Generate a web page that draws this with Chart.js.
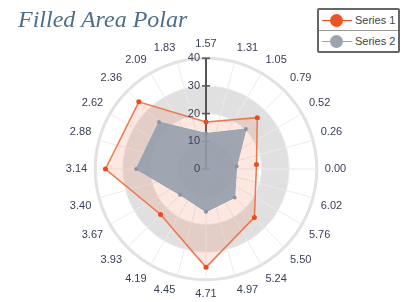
<!DOCTYPE html>
<html>
<head>
<meta charset="utf-8">
<script src="https://cdn.jsdelivr.net/npm/chart.js@4"></script>
<style>
  body { margin: 0; background: #fff; }
  #wrap { position: relative; width: 408px; height: 302px; overflow: hidden; }
  #title {
    position: absolute; left: 18px; top: 6px; line-height: 24px;
    font: italic 24px 'Liberation Serif', 'Times New Roman', serif; color: #4f6d8a;
  }
  #legend {
    position: absolute; left: 317px; top: 8px; width: 79px;
    border: 2px solid #666; border-radius: 2px; background: #fff;
    font: 11px 'Liberation Sans', Arial, sans-serif; color: #444;
  }
  .row { height: 20px; display: flex; align-items: center; }
  .row + .row { border-top: 1px solid #999; }
  .mark { position: relative; width: 30px; height: 13px; margin: 0 3px 0 3px; }
  .mark::before {
    content: ''; position: absolute; left: 0; right: 0; top: 6px; height: 1.5px; background: var(--c);
  }
  .mark::after {
    content: ''; position: absolute; left: 8px; top: 0; width: 13px; height: 13px;
    border-radius: 50%; background: var(--c);
  }
</style>
</head>
<body>
<div id="wrap">
  <canvas id="chart" width="408" height="302"></canvas>
  <div id="title">Filled Area Polar</div>
  <div id="legend">
    <div class="row"><span class="mark" style="--c:#f0531f"></span>Series 1</div>
    <div class="row"><span class="mark" style="--c:#9aa4af"></span>Series 2</div>
  </div>
</div>
<script>
// angle labels (radians), from the top going clockwise
const angleLabels = ['1.57', '1.31', '1.05', '0.79', '0.52', '0.26', '0.00', '6.02', '5.76', '5.50', '5.24', '4.97',
  '4.71', '4.45', '4.19', '3.93', '3.67', '3.40', '3.14', '2.88', '2.62', '2.36', '2.09', '1.83'];
const radialTicks = [0, 10, 20, 30, 40];

// point angles in degrees, counterclockwise from 0.00
const pointAngles = [90, 45, 5, -45, -90, -135, 180, 135];
const series1 = [17, 26.2, 18.3, 24.7, 35.5, 23.2, 36.3, 34.3];
const series2 = [12.8, 20.4, 11.1, 14.6, 15.4, 13.2, 25.2, 24.0];

const gridColor = '#ebebeb';
const bandColor = '#e0e0e0';
const labelColor = '#3a4055';
const font = "'Liberation Sans', Arial, sans-serif";

// radar slots every 5 degrees, a label on every third one
const slotsPerLabel = 3;
const slotCount = angleLabels.length * slotsPerLabel;
const slotLabels = [];
for (let i = 0; i < slotCount; i++) {
  slotLabels.push(i % slotsPerLabel === 0 ? angleLabels[i / slotsPerLabel] : '');
}

function toSlots(values) {
  const slots = new Array(slotCount).fill(null);
  values.forEach((v, i) => {
    const deg = ((90 - pointAngles[i]) % 360 + 360) % 360;
    slots[Math.round(deg / (360 / slotCount)) % slotCount] = v;
  });
  return slots;
}

const polarDecor = {
  id: 'polarDecor',
  beforeDraw(chart) {
    const s = chart.scales.r;
    const c = chart.ctx;
    c.save();
    c.fillStyle = bandColor;
    for (let i = 0; i + 1 < radialTicks.length; i += 2) {
      c.beginPath();
      c.arc(s.xCenter, s.yCenter, s.getDistanceFromCenterForValue(radialTicks[i + 1]), 0, Math.PI * 2);
      if (radialTicks[i] > 0) {
        c.arc(s.xCenter, s.yCenter, s.getDistanceFromCenterForValue(radialTicks[i]), 0, Math.PI * 2, true);
      }
      c.fill();
    }
    c.restore();
  },
  beforeDatasetsDraw(chart) {
    const s = chart.scales.r;
    const c = chart.ctx;
    const top = radialTicks[radialTicks.length - 1];
    c.save();
    c.strokeStyle = '#555';
    c.lineWidth = 2;
    c.beginPath();
    c.moveTo(s.xCenter, s.yCenter);
    c.lineTo(s.xCenter, s.yCenter - s.getDistanceFromCenterForValue(top));
    c.stroke();
    c.lineWidth = 1.5;
    radialTicks.forEach(v => {
      const y = s.yCenter - s.getDistanceFromCenterForValue(v);
      c.beginPath();
      c.moveTo(s.xCenter - 4, y);
      c.lineTo(s.xCenter + 4, y);
      c.stroke();
    });
    c.restore();
  },
  afterDatasetsDraw(chart) {
    const s = chart.scales.r;
    const c = chart.ctx;
    c.save();
    c.fillStyle = labelColor;
    c.font = '11px ' + font;
    c.textAlign = 'right';
    c.textBaseline = 'middle';
    radialTicks.forEach(v => {
      c.fillText(String(v), s.xCenter - 6, s.yCenter - s.getDistanceFromCenterForValue(v));
    });
    c.restore();
  }
};

new Chart(document.getElementById('chart'), {
  type: 'radar',
  data: {
    labels: slotLabels,
    datasets: [{
      label: 'Series 1',
      data: toSlots(series1),
      order: 2,
      borderColor: '#f27448',
      backgroundColor: 'rgba(240, 115, 80, 0.17)',
      borderWidth: 1.5,
      pointRadius: 2.5,
      pointBackgroundColor: '#f04818',
      pointBorderWidth: 0,
      fill: true,
      spanGaps: true
    }, {
      label: 'Series 2',
      data: toSlots(series2),
      order: 1,
      borderColor: '#98a2ae',
      backgroundColor: 'rgba(146, 157, 171, 0.88)',
      borderWidth: 1,
      pointRadius: 2,
      pointBackgroundColor: '#8893a0',
      pointBorderWidth: 0,
      fill: true,
      spanGaps: true
    }]
  },
  options: {
    responsive: false,
    animation: false,
    devicePixelRatio: 1,
    layout: { padding: { top: 37, left: 4, right: 0, bottom: 0 } },
    plugins: { legend: { display: false }, title: { display: false }, tooltip: { enabled: false } },
    scales: {
      r: {
        min: 0,
        max: 40,
        ticks: { display: false, stepSize: 10 },
        grid: {
          color: ctx => ctx.tick && ctx.tick.value === 40 ? '#e2e2e2' : gridColor,
          lineWidth: ctx => ctx.tick && ctx.tick.value === 40 ? 3 : 1
        },
        angleLines: {
          color: gridColor,
          lineWidth: ctx => ctx.index % slotsPerLabel === 0 ? 1 : 0
        },
        pointLabels: {
          padding: 8,
          color: labelColor,
          font: { family: font, size: 11 }
        }
      }
    }
  },
  plugins: [polarDecor]
});
</script>
</body>
</html>
